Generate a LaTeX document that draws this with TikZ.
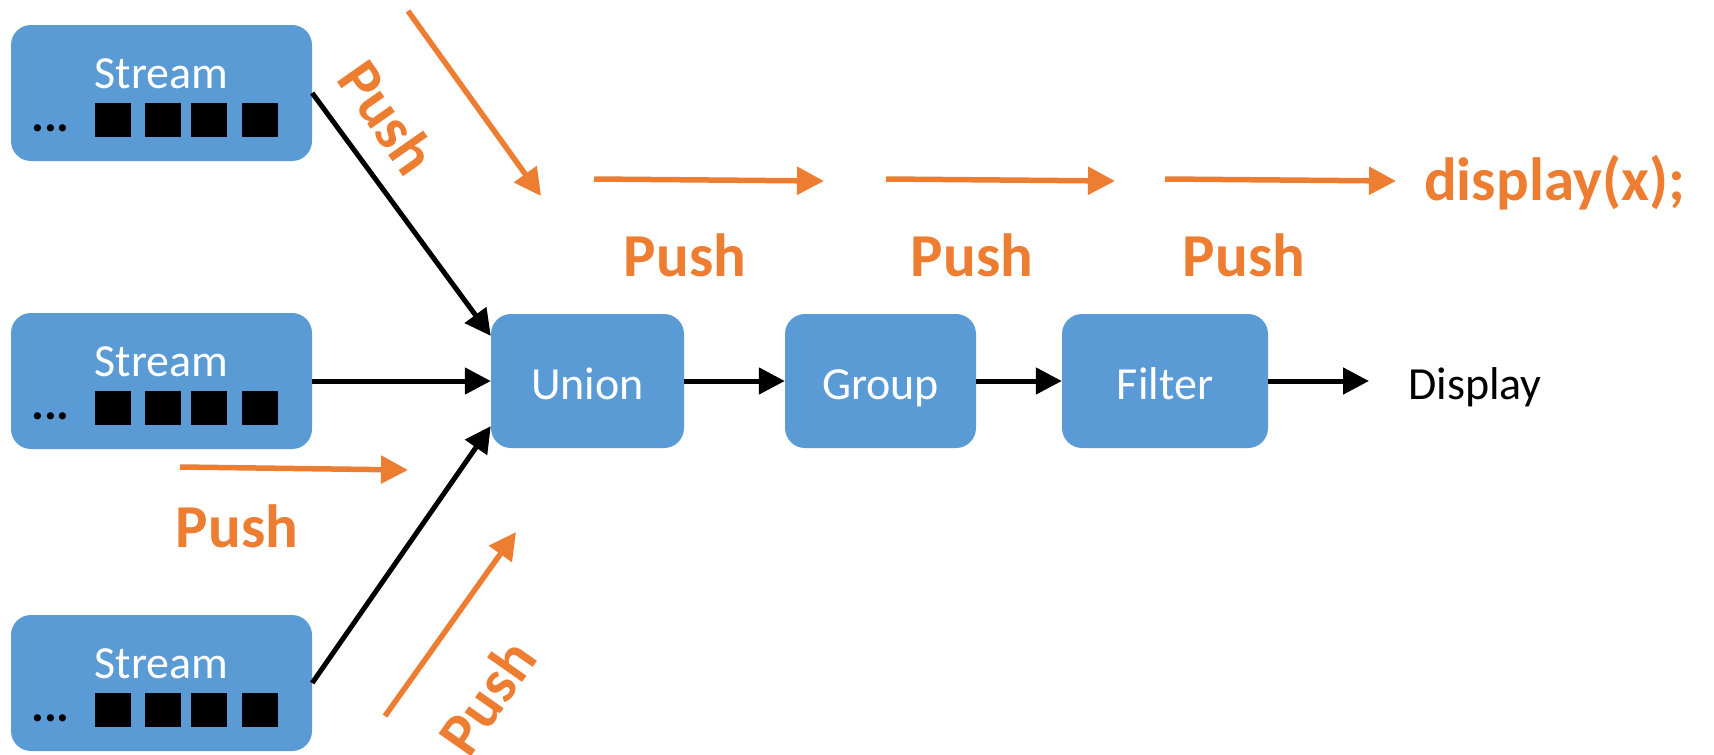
\documentclass[tikz,border=0pt]{standalone}
\usepackage{fontspec}
\setmainfont{Carlito}
\usetikzlibrary{arrows.meta}
\definecolor{boxblue}{HTML}{5B9BD5}
\definecolor{pushorange}{HTML}{ED7D31}

\tikzset{
  streambox/.style={fill=boxblue, rounded corners=20pt, minimum width=301pt, minimum height=136pt, inner sep=0pt},
  opbox/.style={fill=boxblue, rounded corners=20pt, minimum height=134pt, text=white,
    text height=36pt, text depth=0pt, font=\fontsize{46}{50}\selectfont},
  boxtext/.style={text=white, inner sep=0pt, font=\fontsize{46}{50}\selectfont},
  cell/.style={fill=black, minimum width=36pt, minimum height=34pt, inner sep=0pt},
  dots/.style={inner sep=0pt, font=\bfseries\fontsize{48}{50}\selectfont},
  pushlbl/.style={text=pushorange, inner sep=0pt, font=\bfseries\fontsize{61}{70}\selectfont},
  blackarr/.style={line width=5pt, -{Triangle[length=26pt,width=26pt]}},
  pusharr/.style={draw=pushorange, line width=5.5pt, -{Triangle[length=27pt,width=27pt]}},
}

\begin{document}
\begin{tikzpicture}[x=1pt, y=-1pt]
  \useasboundingbox (0,0) rectangle (1714,755);
  % the three input streams
  \foreach \i/\y in {1/93,2/381,3/683} {
    \node[streambox] (s\i) at (161.5,\y) {};
    \node[boxtext, anchor=base] (s\i txt) at (161.5,\y-5) {Stream};
    \node[dots, anchor=base west] (s\i dots) at (31,\y+38) {...};
    \foreach \x in {113,163,209,260}
      \node[cell] (s\i c\x) at (\x,\y+27) {};
  }
  % operators
  \node[opbox, minimum width=193pt] (union) at (587.5,381) {Union};
  \node[opbox, minimum width=191pt] (group) at (880.5,381) {Group};
  \node[opbox, minimum width=206pt] (filter) at (1165,381) {Filter};
  \node[anchor=base west, inner sep=0pt, font=\fontsize{46}{50}\selectfont] (display) at (1408,399) {Display};
  \draw[blackarr] (s1.east) -- (union.155);
  \draw[blackarr] (s2.east) -- (union.west);
  \draw[blackarr] (s3.east) -- (union.205);
  \draw[blackarr] (union) -- (group);
  \draw[blackarr] (group) -- (filter);
  \draw[blackarr, shorten >=39pt] (filter.east) -- (filter.east -| display.west);
  % push arrows
  \coordinate (pa1) at (408,11);   \coordinate (pa2) at (541,196);
  \coordinate (pb1) at (594,179);  \coordinate (pb2) at (824,181);
  \coordinate (pc1) at (886,179);  \coordinate (pc2) at (1115,181);
  \coordinate (pd1) at (1165,179); \coordinate (pd2) at (1396,181);
  \coordinate (pe1) at (180,467);  \coordinate (pe2) at (408,470);
  \coordinate (pf1) at (385,716);  \coordinate (pf2) at (516,532);
  \draw[pusharr] (pa1) -- (pa2);
  \draw[pusharr] (pb1) -- (pb2);
  \draw[pusharr] (pc1) -- (pc2);
  \draw[pusharr] (pd1) -- (pd2);
  \draw[pusharr] (pe1) -- (pe2);
  \draw[pusharr] (pf1) -- (pf2);
  \node[pushlbl, rotate=-55] (push1) at (388,117) {Push};
  \node[pushlbl] (push2) at (685,255) {Push};
  \node[pushlbl] (push3) at (972,255) {Push};
  \node[pushlbl] (push4) at (1244,255) {Push};
  \node[pushlbl] (push5) at (237,526) {Push};
  \node[pushlbl, rotate=55] (push6) at (487,697) {Push};
  \node[pushlbl, anchor=base west] (code) at (1424,200) {display(x);};
\end{tikzpicture}
\end{document}
